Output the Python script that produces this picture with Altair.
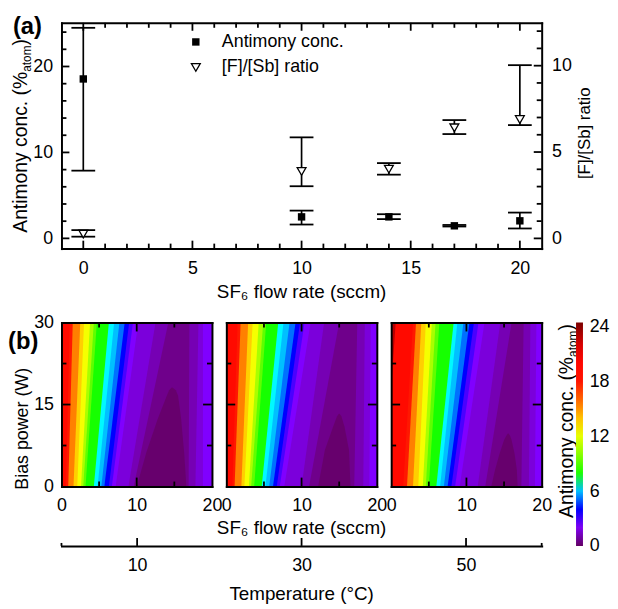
import altair as alt
import pandas as pd

FONT = "Liberation Sans"

# ---------------- panel (a) data ----------------
FLOW = [0, 10, 14, 17, 20]
SB_CONC = [18.55, 2.50, 2.50, 1.46, 2.04]
SB_LO = [7.88, 1.61, 2.24, 1.38, 1.15]
SB_HI = [24.50, 3.23, 2.81, 1.56, 3.00]
RATIO = [0.25, 3.88, 4.01, 6.40, 6.88]
RATIO_LO = [0.10, 3.02, 3.69, 6.04, 6.56]
RATIO_HI = [0.48, 5.85, 4.36, 6.85, 10.03]

A_X_TICKS = [0, 5, 10, 15, 20]
A_X_MINOR = [1, 2, 3, 4, 6, 7, 8, 9, 11, 12, 13, 14, 16, 17, 18, 19]
A_YL_TICKS = [0, 10, 20]
A_YL_MINOR = [2, 4, 6, 8, 12, 14, 16, 18, 22, 24]
A_YR_TICKS = [0, 5, 10]
A_YR_MINOR = [1, 2, 3, 4, 6, 7, 8, 9, 11, 12]

# ---------------- panel (b) data: iso-concentration boundaries read from the maps ----------------
# region "conc < LEVEL" spans from the left boundary to the right boundary, at bias 0 W and 30 W
LEVELS = [21, 18.5, 16.5, 14.5, 13, 11.5, 10, 8.5, 7.3, 6.5, 5.5, 4.5, 3.5, 2.6, 1.9, 1.4, 0.9]
FILLS = [19.5, 17.5, 15.5, 13.7, 12.3, 10.7, 9.2, 7.9, 6.9, 6.0, 5.0, 4.0, 3.0, 2.2, 1.65, 1.15, 0.7]
BASE_FILL = 22.8
CORE_FILL = 0.25

P1_L0 = [0, 0.6, 0.9, 1.6, 2.1, 2.6, 2.9, 3.2, 4.3, 4.8, 5.3, 5.7, 6.3, 6.7, 7.2, 8.9, 9.6]
P1_L30 = [0, 1.1, 1.5, 2.5, 3.0, 3.8, 4.3, 4.7, 6.3, 7.0, 7.7, 8.4, 9.0, 9.5, 10.2, 12.5, 14.2]
P1_R0 = [20, 20, 20, 20, 20, 20, 20, 20, 20, 20, 20, 20, 20, 20, 18.8, 17.8, 16.9]
P1_R30 = [20, 20, 20, 20, 20, 20, 20, 20, 20, 20, 20, 20, 20, 20, 18.8, 18.2, 17.0]
P1_CORE_B = [0, 6.3, 12.4, 16.6, 17.6, 18.1]
P1_CORE_L = [10.0, 11.3, 12.8, 14.0, 14.3, 14.65]
P1_CORE_R = [16.6, 16.3, 15.9, 15.5, 15.2, 14.75]

P2_L0 = [0, 0.8, 1.1, 2.0, 2.4, 3.0, 3.3, 3.7, 4.7, 5.2, 5.7, 6.2, 6.7, 7.1, 7.7, 10.0, 11.0]
P2_L30 = [0, 1.5, 1.9, 2.9, 3.5, 4.3, 4.9, 5.3, 6.9, 7.6, 8.4, 9.2, 9.8, 10.4, 11.2, 13.0, 15.0]
P2_R0 = [20, 20, 20, 20, 20, 20, 20, 20, 20, 20, 20, 20, 20, 20, 19.0, 18.2, 17.0]
P2_R30 = [20, 20, 20, 20, 20, 20, 20, 20, 20, 20, 20, 20, 20, 20, 19.2, 18.4, 17.4]
P2_CORE_B = [0, 6.7, 11.0, 12.8, 13.3]
P2_CORE_L = [12.2, 13.1, 14.2, 14.7, 14.95]
P2_CORE_R = [16.5, 16.3, 15.7, 15.3, 15.05]

P3_L0 = [0, 1.6, 2.1, 2.9, 3.6, 4.2, 4.6, 5.0, 6.0, 6.5, 7.0, 7.5, 8.0, 8.5, 9.1, 11.5, 12.5]
P3_L30 = [0.6, 2.9, 3.3, 4.0, 4.6, 5.4, 5.9, 6.4, 8.3, 8.8, 9.6, 10.4, 11.0, 11.6, 12.4, 14.5, 16.0]
P3_R0 = [20, 20, 20, 20, 20, 20, 20, 20, 20, 20, 20, 20, 20, 20, 19.1, 18.3, 17.3]
P3_R30 = [20, 20, 20, 20, 20, 20, 20, 20, 20, 20, 20, 20, 20, 20, 19.3, 18.5, 17.6]
P3_CORE_B = [0, 3.0, 6.0, 8.5, 9.3, 9.7]
P3_CORE_L = [13.3, 13.8, 14.4, 15.0, 15.3, 15.5]
P3_CORE_R = [16.8, 16.7, 16.4, 16.0, 15.8, 15.6]
P3_DARKRED_B = [0, 18, 30]      # boundary of the > 21 % corner (panel 3 only)
P3_DARKRED_X = [0, 0, 0.6]

B_X_MAJOR = [10]
B_X_MINOR = [5, 15]
B_Y_MAJOR = [15]
B_Y_MINOR = [7.5, 22.5]

TEMPS = [10, 30, 50]
TEMP_ENDS = [0.8, 59.2]
CBAR_TICKS = [0, 6, 12, 18, 24]

CMAP_DOMAIN = [0, 0.5, 1.0, 1.6, 2.2, 3.0, 4.0, 5.0, 6.0, 7.0, 7.25, 7.5, 9.5, 12.5, 15, 17.5, 21, 24.43]
CMAP_COLORS = ['#620062', '#6c0078', '#7400a8', '#7a00d8', '#8000ff', '#4a00ff',
               '#0000ff', '#0070ff', '#00c0ff', '#00ffff', '#00ffc8', '#00ff00', '#70ff00',
               '#ffff00', '#ff9a00', '#ff1800', '#ff0000', '#7a0000']

# ---------------- layout (one view, pixel ranges) ----------------
VW, VH = 485, 528.3          # from top-left of panel (a) to the temperature axis line
TOP_H = 228
HM_TOP, HM_BOT = 302.7, 468.3
PANEL_X = [(0, 152), (166.5, 318.5), (333, 485)]
CB_X, CB_W = 519.7, 7
TW = 1.8   # tick width
MAJ, MIN = 8, 5


def frame_axis(orient, offset):
    return alt.Axis(orient=orient, offset=offset, ticks=False, labels=False, domain=True,
                    domainColor='black', domainWidth=2, domainCap='square', grid=False,
                    title=None, zindex=2, tickCount=2)


def label_axis(orient, offset, values, padding, size=18):
    return alt.Axis(orient=orient, offset=offset, values=values, ticks=False, tickSize=0,
                    domain=False, labels=True, labelFontSize=size, labelColor='black',
                    labelPadding=padding, labelFlush=False, labelOverlap=False, grid=False,
                    title=None, zindex=2, labelFont=FONT)


def axis_layer(xs, ys, xa, ya, xv, yv):
    d = pd.DataFrame({'ax': [xv], 'ay': [yv]})
    return alt.Chart(d).mark_point(opacity=0, size=1).encode(
        x=alt.X('ax:Q', scale=xs, axis=xa),
        y=alt.Y('ay:Q', scale=ys, axis=ya))


def xticks(values, xs, ys, edge, length, ppu):
    # vertical tick segments at data x, from the edge (data y) inward by `length` px
    n = len(values)
    d = pd.DataFrame({'v': values, 'e0': [edge] * n, 'e1': [edge + length / ppu] * n})
    return alt.Chart(d).mark_rule(color='black', strokeWidth=TW).encode(
        x=alt.X('v:Q', scale=xs, axis=None),
        y=alt.Y('e0:Q', scale=ys, axis=None), y2='e1:Q')


def yticks(values, xs, ys, edge, length, ppu):
    # horizontal tick segments at data y, from the edge (data x) inward by `length` px
    n = len(values)
    d = pd.DataFrame({'v': values, 'e0': [edge] * n, 'e1': [edge + length / ppu] * n})
    return alt.Chart(d).mark_rule(color='black', strokeWidth=TW).encode(
        y=alt.Y('v:Q', scale=ys, axis=None),
        x=alt.X('e0:Q', scale=xs, axis=None), x2='e1:Q')


def text_layer(txt, x, y, size=18, angle=0, align='left', baseline='middle', weight='normal'):
    d = pd.DataFrame({'t': [txt]})
    return alt.Chart(d).mark_text(fontSize=size, angle=angle, align=align, baseline=baseline,
                                  fontWeight=weight, color='black', font=FONT).encode(
        text='t:N', x=alt.value(x), y=alt.value(y))


layers = []

# anchor that pins the top-left corner of the drawing (page 8,8)
dummy = pd.DataFrame({'d': [0]})
layers.append(alt.Chart(dummy).mark_rule(strokeWidth=0, opacity=0).encode(
    x=alt.value(-54), x2=alt.value(-53), y=alt.value(-12), y2=alt.value(-12)))

# ---------------- panel (b) heat maps ----------------
color_enc = alt.Color('conc:Q',
                      scale=alt.Scale(domain=CMAP_DOMAIN, range=CMAP_COLORS, interpolate='rgb',
                                      clamp=True, nice=False, zero=False),
                      legend=alt.Legend(orient='none', legendX=CB_X, legendY=HM_TOP, title=None,
                                        direction='vertical', gradientLength=VH - HM_TOP,
                                        gradientThickness=CB_W, gradientStrokeWidth=0,
                                        values=CBAR_TICKS, labelOpacity=0, labelFontSize=1,
                                        padding=0))


def area(df, xs, ys):
    return alt.Chart(df).mark_area(orient='horizontal').encode(
        y=alt.Y('B:Q', scale=ys, axis=None),
        x=alt.X('xl:Q', scale=xs, axis=None, stack=False),
        x2='xr:Q',
        color=color_enc)


def add_panel(idx, L0, L30, R0, R30, CB, CL, CR, first_rows=None):
    x0, x1 = PANEL_X[idx]
    xs = alt.Scale(domain=[0, 20], range=[x0, x1], nice=False, zero=False)
    ys = alt.Scale(domain=[0, 30], range=[HM_BOT, HM_TOP], nice=False, zero=False)
    ppx = (x1 - x0) / 20.0
    ppy = (HM_BOT - HM_TOP) / 30.0
    layers.append(area(pd.DataFrame({'B': [0, 30], 'xl': [0, 0], 'xr': [20, 20],
                                     'conc': [BASE_FILL, BASE_FILL]}), xs, ys))
    for i in range(len(LEVELS)):
        if i == 0 and first_rows is not None:
            df = first_rows
        else:
            df = pd.DataFrame({'B': [0, 30], 'xl': [L0[i], L30[i]], 'xr': [R0[i], R30[i]],
                               'conc': [FILLS[i], FILLS[i]]})
        layers.append(area(df, xs, ys))
    layers.append(area(pd.DataFrame({'B': CB, 'xl': CL, 'xr': CR,
                                     'conc': [CORE_FILL] * len(CB)}), xs, ys))
    layers.append(axis_layer(xs, ys, label_axis('bottom', -(VH - HM_BOT), [0, 10, 20], 10.5),
                             label_axis('left', 0, [0, 15, 30], 8) if idx == 0 else None, 10, 15))
    layers.append(axis_layer(xs, ys, frame_axis('top', -HM_BOT), frame_axis('right', -(VW - x0)), 10, 15))
    layers.append(axis_layer(xs, ys, frame_axis('bottom', -(VH - HM_TOP)), frame_axis('left', -x1), 10, 15))
    layers.append(xticks(B_X_MAJOR, xs, ys, 0, 9, ppy))
    layers.append(xticks(B_X_MINOR, xs, ys, 0, MIN, ppy))
    layers.append(xticks(B_X_MAJOR, xs, ys, 30, -9, ppy))
    layers.append(xticks(B_X_MINOR, xs, ys, 30, -MIN, ppy))
    layers.append(yticks(B_Y_MAJOR, xs, ys, 0, 9, ppx))
    layers.append(yticks(B_Y_MINOR, xs, ys, 0, MIN, ppx))
    layers.append(yticks(B_Y_MAJOR, xs, ys, 20, -9, ppx))
    layers.append(yticks(B_Y_MINOR, xs, ys, 20, -MIN, ppx))


add_panel(0, P1_L0, P1_L30, P1_R0, P1_R30, P1_CORE_B, P1_CORE_L, P1_CORE_R)
add_panel(1, P2_L0, P2_L30, P2_R0, P2_R30, P2_CORE_B, P2_CORE_L, P2_CORE_R)
add_panel(2, P3_L0, P3_L30, P3_R0, P3_R30, P3_CORE_B, P3_CORE_L, P3_CORE_R,
          first_rows=pd.DataFrame({'B': P3_DARKRED_B, 'xl': P3_DARKRED_X,
                                   'xr': [20, 20, 20], 'conc': [FILLS[0]] * 3}))

# colour-bar tick labels (same value scale as the gradient)
YC = alt.Scale(domain=[CMAP_DOMAIN[0], CMAP_DOMAIN[-1]], range=[VH, HM_TOP], nice=False, zero=False)
layers.append(alt.Chart(pd.DataFrame({'v': CBAR_TICKS})).mark_point(opacity=0, size=1).encode(
    y=alt.Y('v:Q', scale=YC, axis=label_axis('right', CB_X + CB_W - VW, CBAR_TICKS, 6.3))))

# ---------------- panel (a) ----------------
XA_DOM = [-1, 21]
YA_DOM = [-1.19, 25.08]
YR_DOM = [-0.59, 12.48]
XA = alt.Scale(domain=XA_DOM, range=[0, VW], nice=False, zero=False)
YA = alt.Scale(domain=YA_DOM, range=[TOP_H, 0], nice=False, zero=False)
YR = alt.Scale(domain=YR_DOM, range=[TOP_H, 0], nice=False, zero=False)
PPU_XA = VW / (XA_DOM[1] - XA_DOM[0])
PPU_YA = TOP_H / (YA_DOM[1] - YA_DOM[0])
PPU_YR = TOP_H / (YR_DOM[1] - YR_DOM[0])

dfa = pd.DataFrame({'flow': FLOW, 'sb': SB_CONC, 'sb_lo': SB_LO, 'sb_hi': SB_HI,
                    'r': RATIO, 'r_lo': RATIO_LO, 'r_hi': RATIO_HI})
ba = alt.Chart(dfa)
xenc = alt.X('flow:Q', scale=XA, axis=None)


def cap(field, sc):
    return ba.mark_tick(orient='horizontal', size=24, thickness=1.8, color='black',
                        opacity=1).encode(
        x=xenc, y=alt.Y(field + ':Q', scale=sc, axis=None))


layers += [
    axis_layer(XA, YA, label_axis('bottom', -(VH - TOP_H), A_X_TICKS, 11),
               label_axis('left', 0, A_YL_TICKS, 9), 10, 10),
    axis_layer(XA, YA, frame_axis('top', -TOP_H), frame_axis('right', -VW), 10, 10),
    axis_layer(XA, YR, frame_axis('bottom', -VH), frame_axis('left', -VW), 10, 5),
    axis_layer(XA, YR, None, label_axis('right', 0, A_YR_TICKS, 10), 10, 5),
    xticks(A_X_TICKS, XA, YA, YA_DOM[0], MAJ, PPU_YA),
    xticks(A_X_MINOR, XA, YA, YA_DOM[0], MIN, PPU_YA),
    xticks(A_X_TICKS, XA, YA, YA_DOM[1], -MAJ, PPU_YA),
    xticks(A_X_MINOR, XA, YA, YA_DOM[1], -MIN, PPU_YA),
    yticks(A_YL_TICKS, XA, YA, XA_DOM[0], MAJ, PPU_XA),
    yticks(A_YL_MINOR, XA, YA, XA_DOM[0], MIN, PPU_XA),
    yticks(A_YR_TICKS, XA, YR, XA_DOM[1], -MAJ, PPU_XA),
    yticks(A_YR_MINOR, XA, YR, XA_DOM[1], -MIN, PPU_XA),
    ba.mark_rule(color='black', strokeWidth=1.7).encode(
        x=xenc, y=alt.Y('sb_lo:Q', scale=YA, axis=None), y2='sb_hi:Q'),
    cap('sb_lo', YA), cap('sb_hi', YA),
    ba.mark_rule(color='black', strokeWidth=1.7).encode(
        x=xenc, y=alt.Y('r_lo:Q', scale=YR, axis=None), y2='r_hi:Q'),
    cap('r_lo', YR), cap('r_hi', YR),
    ba.mark_square(size=56, color='black', opacity=1).encode(
        x=xenc, y=alt.Y('sb:Q', scale=YA, axis=None)),
    ba.mark_point(shape='triangle-down', size=80, filled=True, fill='white', stroke='black',
                  strokeWidth=1.3, opacity=1).encode(
        x=xenc, y=alt.Y('r:Q', scale=YR, axis=None)),
    alt.Chart(dummy).mark_square(size=56, color='black', opacity=1).encode(
        x=alt.value(135.7), y=alt.value(19.3)),
    alt.Chart(dummy).mark_point(shape='triangle-down', size=80, filled=True, fill='white',
                                stroke='black', strokeWidth=1.3, opacity=1).encode(
        x=alt.value(135.7), y=alt.value(45)),
]

# ---------------- temperature axis ----------------
TS = alt.Scale(domain=TEMP_ENDS, range=[0, VW], nice=False, zero=False)
YT = alt.Scale(domain=[0, 1], range=[VH, 0], nice=False, zero=False)
dft = pd.DataFrame({'t': [30]})
layers.append(alt.Chart(dft).mark_point(opacity=0, size=1).encode(
    x=alt.X('t:Q', scale=TS, axis=frame_axis('top', -VH))))
layers.append(alt.Chart(dft).mark_point(opacity=0, size=1).encode(
    x=alt.X('t:Q', scale=TS, axis=label_axis('bottom', 0, TEMPS, 10.6))))
layers.append(xticks(TEMPS, TS, YT, 0, 8, VH))
layers.append(xticks(TEMP_ENDS, TS, YT, 0, 3, VH))

# ---------------- texts ----------------
layers += [
    text_layer('Antimony conc.', 162, 19.3, 18),
    text_layer('[F]/[Sb] ratio', 162, 45, 18),
    text_layer('(a)', -49, 4, 24, weight='bold'),
    text_layer('Antimony conc. (%', -35, 212, 19.5, 270, 'left', 'alphabetic'),
    text_layer('atom', -30.5, 49.45, 12, 270, 'left', 'alphabetic'),
    text_layer(')', -35, 22.8, 19.5, 270, 'left', 'alphabetic'),
    text_layer('[F]/[Sb] ratio', 533.4, 111.5, 17, 270, 'center', 'alphabetic'),
    text_layer('SF\u2086 flow rate (sccm)', 242.5, 272, 19, 0, 'center', 'middle'),
    text_layer('(b)', -54, 322, 24, weight='bold'),
    text_layer('Bias power (W)', -33.5, 410, 18, 270, 'center', 'alphabetic'),
    text_layer('SF\u2086 flow rate (sccm)', 242.5, 510, 19, 0, 'center', 'middle'),
    text_layer('Antimony conc. (%', 516.3, 500, 19.5, 270, 'left', 'alphabetic'),
    text_layer('atom', 520.8, 337.45, 12, 270, 'left', 'alphabetic'),
    text_layer(')', 516.3, 310.77, 19.5, 270, 'left', 'alphabetic'),
    text_layer('Temperature (\u00b0C)', 242.5, 576.7, 19, 0, 'center', 'middle'),
]

chart = alt.layer(*layers).resolve_scale(x='independent', y='independent').resolve_axis(
    x='independent', y='independent').properties(width=VW, height=VH, padding=0)
chart = chart.configure(font=FONT).configure_view(strokeWidth=0)

chart.save("out.html", embed_options={"renderer": "svg", "actions": False})
